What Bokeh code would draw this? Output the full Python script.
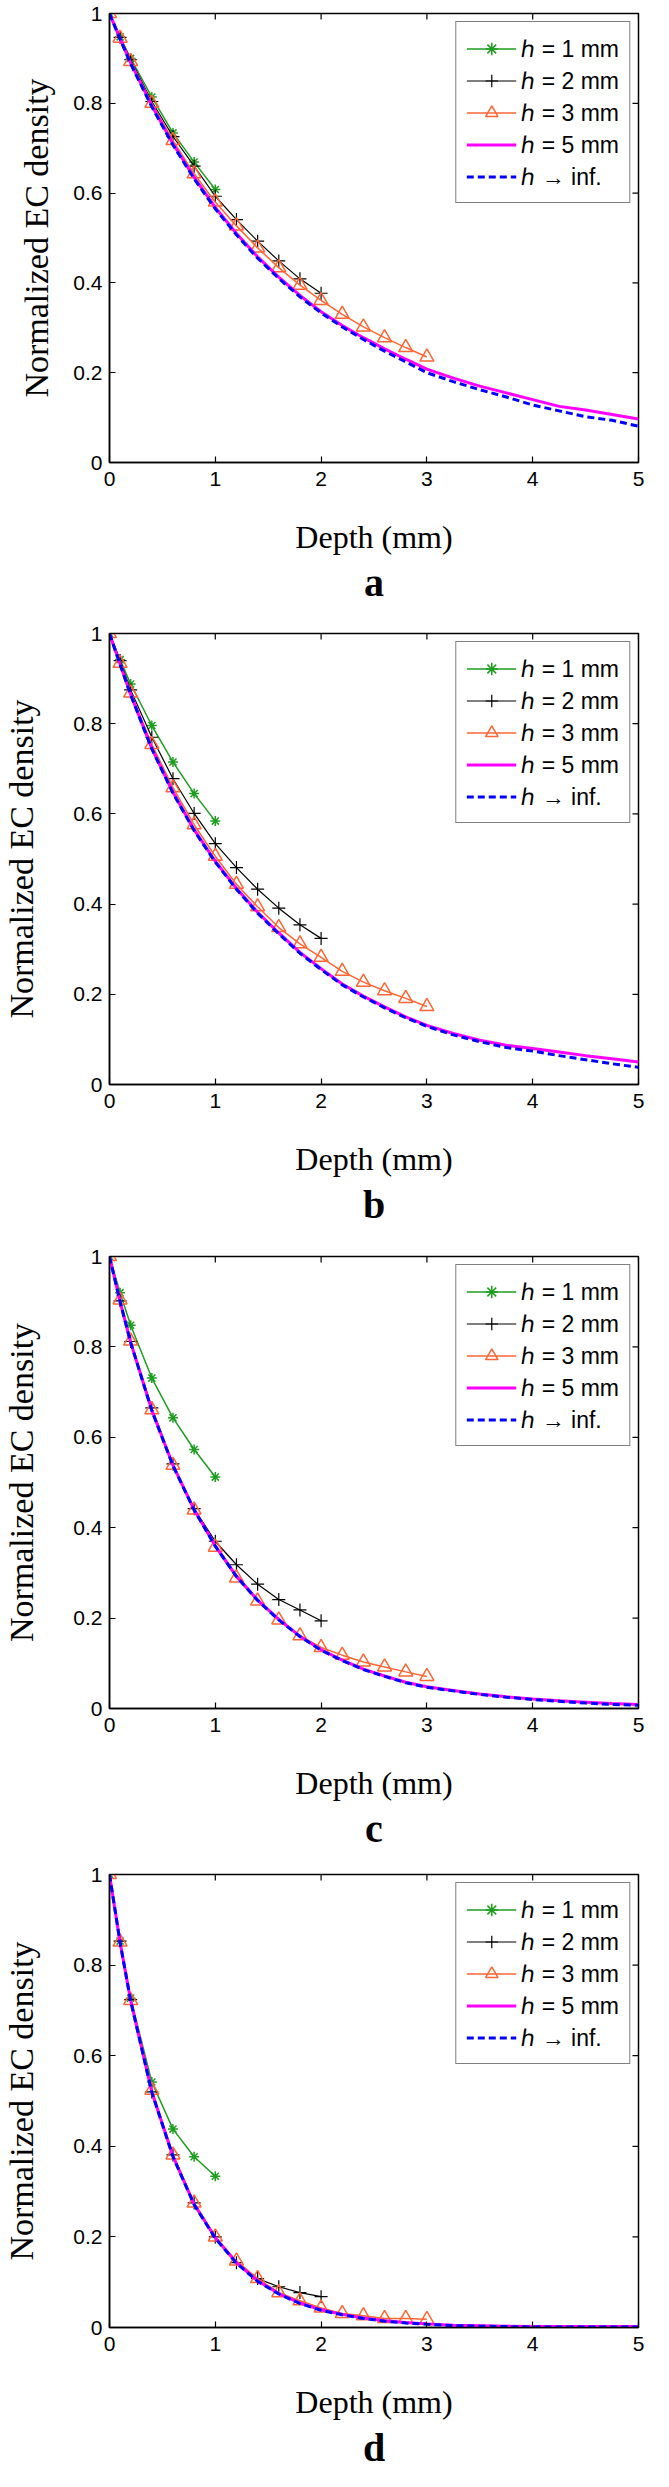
import math
from bokeh.plotting import figure
from bokeh.models import Range1d, FixedTicker, Legend, LegendItem, Title
from bokeh.layouts import column
from bokeh.embed import file_html
from bokeh.resources import INLINE

# ---------------- data ----------------
x_h1 = [0, 0.1, 0.2, 0.4, 0.6, 0.8, 1.0]
x_h2 = [0, 0.1, 0.2, 0.4, 0.6, 0.8, 1.0, 1.2, 1.4, 1.6, 1.8, 2.0]
x_h3 = [0, 0.1, 0.2, 0.4, 0.6, 0.8, 1.0, 1.2, 1.4, 1.6, 1.8, 2.0, 2.2, 2.4, 2.6, 2.8, 3.0]
x_long = [0, 0.1, 0.2, 0.4, 0.6, 0.8, 1.0, 1.2, 1.4, 1.6, 1.8, 2.0, 2.2, 2.4, 2.6, 2.8, 3.0,
          3.25, 3.5, 3.75, 4.0, 4.25, 4.5, 4.75, 5.0]

a_h1 = [1.0, 0.948, 0.900, 0.814, 0.734, 0.669, 0.608]
a_h2 = [1.0, 0.947, 0.897, 0.804, 0.726, 0.660, 0.593, 0.541, 0.493, 0.449, 0.409, 0.377]
a_h3 = [1.0, 0.945, 0.893, 0.800, 0.717, 0.643, 0.580, 0.527, 0.478, 0.434, 0.395, 0.361,
        0.330, 0.302, 0.278, 0.256, 0.235]
a_h5 = [1.0, 0.944, 0.890, 0.795, 0.710, 0.635, 0.568, 0.510, 0.458, 0.413, 0.372, 0.336,
        0.305, 0.278, 0.253, 0.230, 0.208, 0.188, 0.170, 0.155, 0.140, 0.125, 0.117, 0.107, 0.097]
a_inf = [1.0, 0.943, 0.888, 0.792, 0.707, 0.632, 0.565, 0.507, 0.455, 0.410, 0.369, 0.333,
         0.302, 0.274, 0.248, 0.224, 0.200, 0.180, 0.162, 0.146, 0.128, 0.115, 0.102, 0.094, 0.081]

b_h1 = [1.0, 0.942, 0.888, 0.796, 0.715, 0.645, 0.584]
b_h2 = [1.0, 0.940, 0.875, 0.770, 0.678, 0.601, 0.534, 0.481, 0.433, 0.391, 0.354, 0.324]
b_h3 = [1.0, 0.934, 0.868, 0.754, 0.658, 0.576, 0.506, 0.444, 0.394, 0.348, 0.312, 0.282,
        0.251, 0.227, 0.208, 0.191, 0.173]
b_h5 = [1.0, 0.932, 0.865, 0.745, 0.648, 0.565, 0.495, 0.435, 0.382, 0.336, 0.293, 0.257,
        0.223, 0.196, 0.172, 0.150, 0.131, 0.113, 0.098, 0.087, 0.080, 0.072, 0.064, 0.057, 0.050]
b_inf = [1.0, 0.931, 0.864, 0.744, 0.646, 0.563, 0.493, 0.433, 0.380, 0.334, 0.291, 0.255,
         0.221, 0.194, 0.170, 0.148, 0.129, 0.110, 0.095, 0.082, 0.074, 0.064, 0.055, 0.046, 0.038]

c_h1 = [1.0, 0.920, 0.848, 0.731, 0.643, 0.573, 0.512]
c_h2 = [1.0, 0.902, 0.812, 0.665, 0.541, 0.442, 0.370, 0.318, 0.275, 0.241, 0.218, 0.194]
c_h3 = [1.0, 0.904, 0.813, 0.661, 0.538, 0.439, 0.357, 0.289, 0.238, 0.196, 0.161, 0.135,
        0.118, 0.103, 0.092, 0.081, 0.071]
c_h5 = [1.0, 0.900, 0.810, 0.660, 0.538, 0.440, 0.360, 0.293, 0.240, 0.197, 0.160, 0.130,
        0.107, 0.087, 0.072, 0.058, 0.048, 0.040, 0.032, 0.026, 0.021, 0.017, 0.014, 0.011, 0.009]
c_inf = [1.0, 0.900, 0.810, 0.659, 0.537, 0.439, 0.359, 0.292, 0.239, 0.196, 0.159, 0.129,
         0.106, 0.086, 0.071, 0.057, 0.047, 0.039, 0.031, 0.025, 0.020, 0.016, 0.012, 0.009, 0.007]

d_h1 = [1.0, 0.853, 0.727, 0.542, 0.438, 0.377, 0.334]
d_h2 = [1.0, 0.853, 0.724, 0.520, 0.381, 0.275, 0.200, 0.143, 0.108, 0.090, 0.077, 0.068]
d_h3 = [1.0, 0.851, 0.722, 0.524, 0.381, 0.275, 0.200, 0.147, 0.108, 0.077, 0.059, 0.043,
        0.031, 0.026, 0.020, 0.020, 0.018]
d_h5 = [1.0, 0.850, 0.722, 0.520, 0.378, 0.272, 0.198, 0.143, 0.103, 0.075, 0.054, 0.039,
        0.029, 0.021, 0.015, 0.011, 0.008, 0.005, 0.004, 0.003, 0.002, 0.002, 0.002, 0.002, 0.002]
d_inf = [1.0, 0.850, 0.721, 0.519, 0.377, 0.271, 0.197, 0.142, 0.102, 0.074, 0.053, 0.038,
         0.028, 0.020, 0.014, 0.010, 0.007, 0.004, 0.003, 0.002, 0.001, 0.001, 0.001, 0.001, 0.001]

series_labels = ["\u210e = 1 mm", "\u210e = 2 mm", "\u210e = 3 mm", "\u210e = 5 mm", "\u210e \u2192 inf."]
panel_letters = ["a", "b", "c", "d"]
x_ticks = [0, 1, 2, 3, 4, 5]
y_ticks = [0, 0.2, 0.4, 0.6, 0.8, 1.0]
y_tick_labels = ["0", "0.2", "0.4", "0.6", "0.8", "1"]
x_label = "Depth (mm)"
y_label = "Normalized EC density"

GREEN = "#1e9e1e"
ORANGE = "#ff6633"
MAGENTA = "#ff00ff"
BLUE = "#0000ff"

SANS = "Liberation Sans"
SERIF = "Liberation Serif"

# layout: (height, top, bottom, left, right, ylabel_standoff)
geoms = [
    (617, 13, 155, 93, 15, 15),
    (617, 16, 150, 108, 2, 30),
    (617, 22, 143, 108, 2, 30),
    (620, 23, 144, 108, 1, 30),
]


def make_panel(letter, h1, h2, h3, h5, hinf, geom):
    height, top, bottom, left, right, ystand = geom
    p = figure(width=653, height=height, output_backend="svg", toolbar_location=None,
               x_range=Range1d(x_ticks[0], x_ticks[-1]), y_range=Range1d(y_ticks[0], y_ticks[-1]),
               min_border_top=top, min_border_bottom=bottom,
               min_border_left=left, min_border_right=right)
    p.grid.visible = False
    p.outline_line_color = "black"
    p.outline_line_width = 1.5
    p.background_fill_color = "white"
    p.border_fill_color = "white"

    xa = p.xaxis[0]
    ya = p.yaxis[0]
    xa.ticker = FixedTicker(ticks=x_ticks)
    ya.ticker = FixedTicker(ticks=y_ticks)
    ya.major_label_overrides = {t: s for t, s in zip(y_ticks, y_tick_labels)}
    for ax in (xa, ya):
        ax.major_tick_in = 6
        ax.major_tick_out = 0
        ax.minor_tick_in = 0
        ax.minor_tick_out = 0
        ax.axis_line_width = 1.5
        ax.major_tick_line_width = 1.2
        ax.major_label_text_font = SANS
        ax.major_label_text_font_size = "21px"
        ax.major_label_text_color = "black"
        ax.axis_label_text_font = SERIF
        ax.axis_label_text_font_style = "normal"
        ax.axis_label_text_color = "black"
    ya.major_label_standoff = 7
    xa.major_label_standoff = 9
    xa.axis_label = x_label
    xa.axis_label_text_font_size = "32px"
    xa.axis_label_standoff = 30
    ya.axis_label = y_label
    ya.axis_label_text_font_size = "34px"
    ya.axis_label_standoff = ystand

    # inward ticks on the top and right edges of the box
    n = len(x_ticks)
    p.ray(x=x_ticks, y=[y_ticks[-1]] * n, length=6, length_units="screen",
          angle=-math.pi / 2, line_color="black", line_width=1.2)
    m = len(y_ticks)
    p.ray(x=[x_ticks[-1]] * m, y=y_ticks, length=6, length_units="screen",
          angle=math.pi, line_color="black", line_width=1.2)

    r1l = p.line(x_h1, h1, line_color=GREEN, line_width=1.5)
    r1m = p.scatter(x_h1, h1, marker="asterisk", size=10, line_color=GREEN, line_width=1.5)
    r2l = p.line(x_h2, h2, line_color="black", line_width=1.2)
    r2m = p.scatter(x_h2, h2, marker="cross", size=13, line_color="black", line_width=1.2)
    r3l = p.line(x_h3, h3, line_color=ORANGE, line_width=1.5)
    r3m = p.scatter(x_h3, h3, marker="triangle", size=14, line_color=ORANGE, line_width=1.5,
                    fill_alpha=0)
    r5 = p.line(x_long, h5, line_color=MAGENTA, line_width=3)
    ri = p.line(x_long, hinf, line_color=BLUE, line_width=3, line_dash="7 4")

    legend = Legend(items=[
        LegendItem(label=series_labels[0], renderers=[r1l, r1m]),
        LegendItem(label=series_labels[1], renderers=[r2l, r2m]),
        LegendItem(label=series_labels[2], renderers=[r3l, r3m]),
        LegendItem(label=series_labels[3], renderers=[r5]),
        LegendItem(label=series_labels[4], renderers=[ri]),
    ])
    legend.location = "top_right"
    legend.margin = 8
    legend.padding = 10
    legend.spacing = 0
    legend.label_height = 31
    legend.glyph_height = 31
    legend.glyph_width = 50
    legend.label_standoff = 5
    legend.label_text_font = SANS
    legend.label_text_font_size = "23px"
    legend.label_text_color = "black"
    legend.border_line_color = "black"
    legend.border_line_width = 1.5
    legend.background_fill_alpha = 1.0
    p.add_layout(legend, "center")

    title = Title(text=letter, align="center", text_font=SERIF, text_font_size="40px",
                  text_font_style="bold", text_color="black", standoff=0)
    p.add_layout(title, "below")
    return p


panels = [
    make_panel(panel_letters[0], a_h1, a_h2, a_h3, a_h5, a_inf, geoms[0]),
    make_panel(panel_letters[1], b_h1, b_h2, b_h3, b_h5, b_inf, geoms[1]),
    make_panel(panel_letters[2], c_h1, c_h2, c_h3, c_h5, c_inf, geoms[2]),
    make_panel(panel_letters[3], d_h1, d_h2, d_h3, d_h5, d_inf, geoms[3]),
]

layout = column(*panels, spacing=0)
open("out.html", "w").write(file_html(layout, INLINE))
